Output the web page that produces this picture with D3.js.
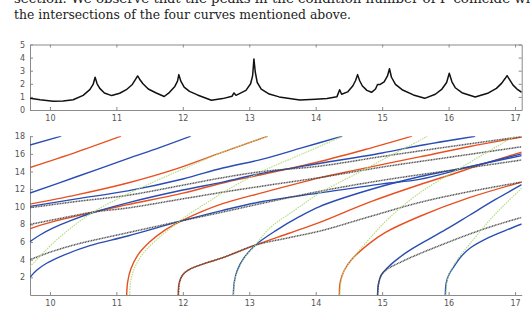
<!DOCTYPE html>
<html>
<head>
<meta charset="utf-8">
<script src="https://cdn.jsdelivr.net/npm/d3@7"></script>
<style>
  body { margin: 0; background: #fff; }
  svg { display: block; }
  .tick text { font-family: "DejaVu Sans", sans-serif; font-size: 8px; fill: #555; }
  .para { font-family: "DejaVu Serif", serif; font-size: 12px; fill: #222; }
</style>
</head>
<body>
<svg id="fig" width="531" height="310"></svg>
<script>
// top panel: condition number of F
const condPts = [[9.7,0.89],[9.85,0.78],[10.05,0.66],[10.2,0.68],[10.35,0.78],[10.5,1.12],[10.6,1.55],[10.65,1.95],[10.68,2.5],[10.71,2.0],[10.75,1.65],[10.82,1.3],[10.93,1.1],[11.05,1.28],[11.15,1.55],[11.24,1.95],[11.29,2.35],[11.32,2.6],[11.35,2.35],[11.4,2.0],[11.48,1.6],[11.6,1.3],[11.72,1.03],[11.8,1.35],[11.88,1.8],[11.92,2.2],[11.94,2.7],[11.97,2.2],[12.02,1.75],[12.1,1.42],[12.22,1.15],[12.43,0.74],[12.6,0.87],[12.74,1.05],[12.77,1.3],[12.8,1.12],[12.95,1.5],[13.02,2.0],[13.05,2.6],[13.07,3.9],[13.09,2.9],[13.12,2.1],[13.18,1.6],[13.3,1.22],[13.45,1.0],[13.76,0.76],[14.0,0.83],[14.17,0.88],[14.32,1.02],[14.36,1.55],[14.39,1.2],[14.48,1.38],[14.56,1.85],[14.6,2.25],[14.63,2.7],[14.66,2.25],[14.7,1.85],[14.77,1.5],[14.84,1.35],[14.9,1.6],[14.93,1.95],[14.97,1.95],[15.03,2.15],[15.08,2.6],[15.11,3.15],[15.14,2.5],[15.2,1.95],[15.3,1.55],[15.47,1.15],[15.64,0.89],[15.8,1.2],[15.9,1.6],[15.97,2.1],[16.01,2.8],[16.05,2.15],[16.1,1.7],[16.2,1.32],[16.4,0.99],[16.6,1.3],[16.72,1.65],[16.8,2.05],[16.85,2.4],[16.88,2.62],[16.92,2.3],[16.97,1.9],[17.04,1.55],[17.1,1.35]];

// bottom panel: the four families of curves
const blueCurves = [
  [[9.7,17.0],[10.17,18.0]],
  [[9.7,11.56],[10.4,13.4],[11.17,15.45],[11.65,16.7],[12.12,18]],
  [[9.7,10.05],[10.4,10.9],[11.17,11.8],[12.0,13.15],[12.6,14.4],[13.2,15.4],[13.8,16.7],[14.4,18]],
  [[9.7,6.05],[9.85,6.8],[10.05,7.6],[10.3,8.4],[10.65,9.35],[11.17,10.45],[12.0,11.9],[12.6,12.8],[13.16,13.75],[14.05,14.9],[15.0,16.1],[15.57,16.95],[16.4,18]],
  [[9.7,2.0],[9.8,2.8],[9.95,3.6],[10.2,4.5],[10.6,5.6],[11.17,6.69],[11.98,8.4],[12.6,9.6],[13.2,10.6],[14.09,11.6],[15.0,12.6],[15.56,13.1],[16.3,14.5],[17.1,16.0]],
  [[12.76,0],[12.775,1.5],[12.82,2.8],[12.92,4.2],[13.09,5.65],[13.4,7.3],[13.76,8.9],[14.05,10.0],[14.8,11.9],[15.56,13.4],[16.02,14.1],[17.1,15.8]],
  [[14.93,0],[14.945,1.3],[14.99,2.3],[15.08,3.1],[15.2,3.9],[15.4,5.0],[15.67,6.2],[16.0,7.6],[16.32,9.07],[16.7,10.8],[17.1,12.5]],
  [[15.95,0],[15.965,1.4],[16.01,2.4],[16.07,3.1],[16.17,4.2],[16.32,5.3],[16.6,6.5],[16.85,7.3],[17.1,8.05]]
];
const redCurves = [
  [[9.7,14.45],[10.4,16.2],[11.07,18]],
  [[9.7,10.3],[10.4,11.35],[11.17,12.7],[11.9,14.3],[12.6,16.2],[13.28,18]],
  [[9.7,7.5],[9.9,8.0],[10.2,8.6],[10.65,9.4],[11.17,10.24],[12.0,11.55],[12.6,12.7],[13.16,13.6],[14.05,15.1],[14.8,16.6],[15.45,18]],
  [[11.155,0],[11.17,1.5],[11.22,3.0],[11.32,4.5],[11.5,6.0],[11.72,7.3],[11.98,8.4],[12.3,9.5],[12.6,10.35],[13.2,11.6],[14.07,13.3],[14.56,14.1],[15.56,15.65],[16.3,16.8],[17.1,17.9]],
  [[11.93,0],[11.945,1.4],[12.0,2.3],[12.1,2.9],[12.3,3.5],[12.59,4.2],[13.09,5.65],[13.6,7.0],[14.05,8.2],[14.8,10.5],[15.56,12.5],[16.02,13.6],[16.5,14.8],[17.1,16.2]],
  [[14.355,0],[14.37,1.5],[14.43,2.8],[14.55,4.1],[14.8,5.8],[15.05,7.1],[15.56,8.9],[16.3,11.0],[17.1,12.8]]
];
const greenCurves = [
  [[9.7,3.2],[9.85,4.4],[10.05,5.9],[10.3,7.5],[10.65,9.4],[11.17,11.45],[11.6,12.95],[12.1,14.6],[12.6,16.2],[13.28,18]],
  [[11.2,0],[11.215,1.5],[11.27,3.0],[11.38,4.5],[11.58,6.1],[11.82,7.6],[12.06,9.0],[12.35,10.4],[12.6,11.6],[13.16,13.9],[13.8,16.0],[14.41,18]],
  [[12.765,0],[12.78,1.5],[12.83,2.8],[12.93,4.2],[13.09,5.65],[13.31,7.6],[13.7,9.7],[14.07,11.6],[14.6,13.7],[15.1,15.7],[15.56,17.5],[15.68,18]],
  [[14.365,0],[14.38,1.5],[14.44,2.9],[14.56,4.2],[14.8,6.3],[15.1,8.7],[15.57,11.6],[16.2,14.5],[16.88,17.5],[17.0,18]],
  [[15.96,0],[15.975,1.4],[16.02,2.6],[16.15,4.2],[16.32,5.8],[16.62,8.5],[16.85,10.3],[17.1,12.1]]
];
const grayCurves = [
  [[9.7,4.0],[10.0,4.85],[10.4,5.75],[10.8,6.45],[11.17,7.06],[11.98,8.4],[12.6,9.4],[13.2,10.4],[14.09,11.8],[15.0,13.0],[16.0,14.1],[17.1,15.3]],
  [[9.7,8.0],[10.2,8.75],[10.65,9.4],[11.17,9.86],[12.0,10.9],[12.6,11.65],[13.2,12.35],[14.05,13.3],[15.0,14.5],[16.0,15.6],[17.1,16.8]],
  [[9.7,9.9],[10.4,10.6],[11.17,11.3],[12.0,12.45],[12.6,13.3],[13.2,14.0],[14.05,14.6],[15.0,15.7],[16.0,16.8],[17.1,17.95]],
  [[11.935,0],[11.95,1.4],[12.0,2.3],[12.1,2.9],[12.3,3.5],[12.59,4.2],[13.09,5.65],[13.6,6.5],[14.09,7.3],[14.82,8.9],[15.57,10.5],[16.3,11.7],[17.1,12.8]],
  [[14.932,0],[14.947,1.3],[14.99,2.3],[15.07,2.9],[15.3,3.8],[15.57,4.7],[16.0,6.0],[16.35,7.0],[16.7,7.9],[17.1,8.8]]
];

const xTicks = [10, 11, 12, 13, 14, 15, 16, 17];
const topYTicks = [0, 1, 2, 3, 4, 5];
const botYTicks = [2, 4, 6, 8, 10, 12, 14, 16, 18];

const line1 = 'section. We observe that the peaks in the condition number of F coincide with';
const line2 = 'the intersections of the four curves mentioned above.';

const svg = d3.select('#fig');
const axisColor = '#8a8a8a';

// paragraph text above the figure (first line is cut by the page edge, as in the scan)
svg.append('text').attr('class', 'para')
  .attr('x', 14).attr('y', 3)
  .attr('textLength', 530).attr('lengthAdjust', 'spacingAndGlyphs')
  .text(line1);
svg.append('text').attr('class', 'para')
  .attr('x', 14).attr('y', 19)
  .attr('textLength', 337).attr('lengthAdjust', 'spacingAndGlyphs')
  .text(line2);

const x = d3.scaleLinear().domain([9.7, 17.1]).range([30, 521.7]);
const yTop = d3.scaleLinear().domain([0, 5]).range([110, 44.5]);
const yBot = d3.scaleLinear().domain([0, 18]).range([295, 136.2]);

const defs = svg.append('defs');
defs.append('clipPath').attr('id', 'clipTop').append('rect')
  .attr('x', 30).attr('y', 44.5).attr('width', 491.7).attr('height', 65.5);
defs.append('clipPath').attr('id', 'clipBot').append('rect')
  .attr('x', 30).attr('y', 136.2).attr('width', 491.7).attr('height', 158.8);

function styleAxis(g) {
  g.selectAll('.domain').attr('stroke', axisColor);
  g.selectAll('.tick line').attr('stroke', axisColor);
}

const fmt = d3.format('d');

// ---- top panel (boxed, ticks inside) ----
svg.append('g').attr('transform', 'translate(0,110)')
  .call(d3.axisBottom(x).tickValues(xTicks).tickFormat(fmt).tickSizeInner(-3).tickSizeOuter(0).tickPadding(5))
  .call(styleAxis);
svg.append('g').attr('transform', 'translate(0,44.5)')
  .call(d3.axisTop(x).tickValues(xTicks).tickSizeInner(-3).tickSizeOuter(0).tickFormat(''))
  .call(styleAxis);
svg.append('g').attr('transform', 'translate(30,0)')
  .call(d3.axisLeft(yTop).tickValues(topYTicks).tickFormat(fmt).tickSizeInner(-3).tickSizeOuter(0).tickPadding(5))
  .call(styleAxis);
svg.append('g').attr('transform', 'translate(521.7,0)')
  .call(d3.axisRight(yTop).tickValues(topYTicks).tickSizeInner(-3).tickSizeOuter(0).tickFormat(''))
  .call(styleAxis);

svg.append('path')
  .datum(condPts)
  .attr('clip-path', 'url(#clipTop)')
  .attr('fill', 'none')
  .attr('stroke', '#111')
  .attr('stroke-width', 1.5)
  .attr('stroke-linejoin', 'round')
  .attr('d', d3.line().x(d => x(d[0])).y(d => yTop(d[1])));

// ---- bottom panel (left and bottom axes only) ----
svg.append('g').attr('transform', 'translate(0,295)')
  .call(d3.axisBottom(x).tickValues(xTicks).tickFormat(fmt).tickSizeInner(-3).tickSizeOuter(0).tickPadding(5))
  .call(styleAxis);
svg.append('g').attr('transform', 'translate(30,0)')
  .call(d3.axisLeft(yBot).tickValues(botYTicks).tickFormat(fmt).tickSizeInner(-3).tickSizeOuter(0).tickPadding(5))
  .call(styleAxis);

const curveLine = d3.line()
  .x(d => x(d[0])).y(d => yBot(d[1]))
  .curve(d3.curveCatmullRom.alpha(0.5));

const plot = svg.append('g').attr('clip-path', 'url(#clipBot)');

function drawFamily(data, color, width, dash) {
  plot.append('g').selectAll('path')
    .data(data)
    .enter().append('path')
    .attr('fill', 'none')
    .attr('stroke', color)
    .attr('stroke-width', width)
    .attr('stroke-dasharray', dash)
    .attr('d', curveLine);
}

drawFamily(redCurves, '#e8501f', 1.4, null);
drawFamily(blueCurves, '#2a4db3', 1.4, null);
drawFamily(grayCurves, '#4a4a4a', 1.5, '1,0.6');
drawFamily(greenCurves, '#b2dc7c', 1.1, '1.5,1');
</script>
</body>
</html>
